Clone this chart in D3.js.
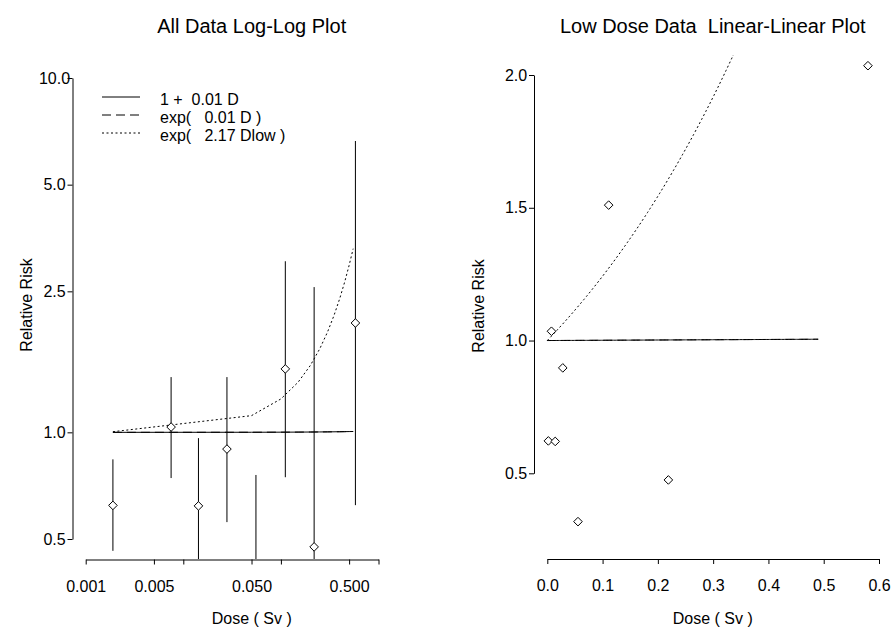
<!DOCTYPE html>
<html>
<head>
<meta charset="utf-8">
<script src="https://cdn.jsdelivr.net/npm/d3@7"></script>
<style>
  html, body { margin: 0; padding: 0; background: #fff; }
  svg { display: block; font-family: "Liberation Sans", Arial, sans-serif; }
  text { white-space: pre; }
</style>
</head>
<body>
<svg id="chart" width="893" height="629"></svg>
<script>
// Dose groups (Sv), observed relative risk and confidence limits
const dose    = [0.0019, 0.0075, 0.0143, 0.028, 0.0555, 0.111, 0.219, 0.58];
const rr      = [0.622, 1.035, 0.620, 0.897, 0.318, 1.51, 0.475, 2.035];
const rrLower = [0.463, 0.743, 0.25, 0.558, 0.10, 0.747, 0.10, 0.623];
const rrUpper = [0.839, 1.432, 0.963, 1.432, 0.758, 3.04, 2.57, 6.64];

// Fitted model coefficients (per Sv)
const betaLinear = 0.01;
const betaExp = 0.01;
const betaLow = 2.17;

// Doses at which the fitted curves are evaluated
const fitDoseLog = [0.0019, 0.05, 0.1, 0.15, 0.2, 0.25, 0.3, 0.35, 0.4, 0.45, 0.5, 0.55];
const fitDoseLinMax = 0.49;

// Axis ticks
const logXTicks = [0.001, 0.005, 0.01, 0.05, 0.1, 0.5, 1];
const logXLabels = ["0.001", "0.005", "", "0.050", "", "0.500", ""];
const logYTicks = [0.5, 1, 2.5, 5, 10];
const logYLabels = ["0.5", "1.0", "2.5", "5.0", "10.0"];
const linXTicks = [0, 0.1, 0.2, 0.3, 0.4, 0.5, 0.6];
const linYTicks = [0.5, 1.0, 1.5, 2.0];

const legendLabels = ["1 +  0.01 D", "exp(   0.01 D )", "exp(   2.17 Dlow )"];

const svg = d3.select("#chart");
const dashStyle = "9,5";
const dotStyle = "2,2.5";

const models = [
  { f: d => 1 + betaLinear * d, dash: null },
  { f: d => Math.exp(betaExp * d), dash: dashStyle },
  { f: d => Math.exp(betaLow * d), dash: dotStyle }
];

function diamond(g, pts, x, y) {
  g.selectAll("path.pt").data(pts).join("path")
    .attr("class", "pt")
    .attr("d", "M0,-4.3L4.3,0L0,4.3L-4.3,0Z")
    .attr("transform", p => `translate(${x(p.d)},${y(p.r)})`)
    .attr("fill", "#fff").attr("stroke", "#000").attr("stroke-width", 1);
}

function styleAxis(g, fontSize) {
  g.select(".domain").attr("stroke", "#000").attr("stroke-width", 1);
  g.selectAll(".tick line").attr("stroke", "#000");
  g.selectAll(".tick text").attr("fill", "#000").attr("font-size", fontSize)
    .attr("font-family", "'Liberation Sans', Arial, sans-serif");
}

const points = dose.map((d, i) => ({ d, r: rr[i], lo: rrLower[i], hi: rrUpper[i] }));

// ---------- Left panel: all data, log-log ----------
{
  const x = d3.scaleLog().domain([0.001, 1]).range([85.7, 378.5]);
  const y = d3.scaleLog().domain([0.5, 10]).range([539, 78]);
  const axisY = 72.5, axisXy = 559.5;

  svg.append("defs").append("clipPath").attr("id", "clipL")
    .append("rect").attr("x", 73).attr("y", 50).attr("width", 358).attr("height", 509);

  const plot = svg.append("g").attr("clip-path", "url(#clipL)");

  // confidence intervals
  plot.selectAll("line.err").data(points).join("line")
    .attr("class", "err")
    .attr("x1", p => x(p.d)).attr("x2", p => x(p.d))
    .attr("y1", p => y(p.lo)).attr("y2", p => y(p.hi))
    .attr("stroke", "#000").attr("stroke-width", 1);

  // fitted curves
  const line = d3.line().x(d => x(d[0])).y(d => y(d[1]));
  models.forEach(m => {
    plot.append("path")
      .attr("d", line(fitDoseLog.map(d => [d, m.f(d)])))
      .attr("fill", "none").attr("stroke", "#000").attr("stroke-width", 1)
      .attr("stroke-dasharray", m.dash);
  });

  diamond(plot, points, x, y);

  const gx = svg.append("g").attr("transform", `translate(0,${axisXy})`)
    .call(d3.axisBottom(x).tickValues(logXTicks)
      .tickFormat((d, i) => logXLabels[i]).tickSize(5).tickSizeOuter(0).tickPadding(16));
  styleAxis(gx, 16);

  const gy = svg.append("g").attr("transform", `translate(${axisY},0)`)
    .call(d3.axisLeft(y).tickValues(logYTicks)
      .tickFormat((d, i) => logYLabels[i]).tickSize(5).tickSizeOuter(0));
  styleAxis(gy, 16);
  gy.selectAll(".tick text").attr("text-anchor", "middle").attr("x", -18);

  // legend
  const lg = svg.append("g");
  const legendStyles = [null, dashStyle, dotStyle];
  legendLabels.forEach((t, i) => {
    const yy = 105 + i * 18;
    lg.append("line").attr("x1", 102).attr("x2", 140)
      .attr("y1", yy - 8).attr("y2", yy - 8)
      .attr("stroke", "#000").attr("stroke-width", 1)
      .attr("stroke-dasharray", legendStyles[i]);
    lg.append("text").attr("x", 160).attr("y", yy)
      .attr("font-size", 16).text(t);
  });

  svg.append("text").attr("x", 251.7).attr("y", 33).attr("text-anchor", "middle")
    .attr("font-size", 20).text("All Data Log-Log Plot");
  svg.append("text").attr("x", 251.7).attr("y", 624).attr("text-anchor", "middle")
    .attr("font-size", 16).text("Dose ( Sv )");
  svg.append("text").attr("transform", "translate(31.7,305) rotate(-90)")
    .attr("text-anchor", "middle").attr("font-size", 16).text("Relative Risk");
}

// ---------- Right panel: low dose data, linear-linear ----------
{
  const x = d3.scaleLinear().domain([0, 0.6]).range([547.3, 879]);
  const y = d3.scaleLinear().domain([0.5, 2.0]).range([473.3, 75]);
  const axisY = 534, axisXy = 559;

  svg.select("defs").append("clipPath").attr("id", "clipR")
    .append("rect").attr("x", 534).attr("y", 55).attr("width", 358).attr("height", 504);

  const plot = svg.append("g").attr("clip-path", "url(#clipR)");

  const grid = d3.range(0, 201).map(i => fitDoseLinMax * i / 200);
  const line = d3.line().x(d => x(d[0])).y(d => y(d[1]));
  models.forEach(m => {
    plot.append("path")
      .attr("d", line(grid.map(d => [d, m.f(d)])))
      .attr("fill", "none").attr("stroke", "#000").attr("stroke-width", 1)
      .attr("stroke-dasharray", m.dash);
  });

  diamond(plot, points, x, y);

  const gx = svg.append("g").attr("transform", `translate(0,${axisXy})`)
    .call(d3.axisBottom(x).tickValues(linXTicks)
      .tickFormat(d3.format(".1f")).tickSize(5).tickSizeOuter(0).tickPadding(16));
  styleAxis(gx, 16);

  const gy = svg.append("g").attr("transform", `translate(${axisY},0)`)
    .call(d3.axisLeft(y).tickValues(linYTicks)
      .tickFormat(d3.format(".1f")).tickSize(5).tickSizeOuter(0));
  styleAxis(gy, 16);
  gy.selectAll(".tick text").attr("text-anchor", "middle").attr("x", -18);

  svg.append("text").attr("x", 712.8).attr("y", 33).attr("text-anchor", "middle")
    .attr("font-size", 20).text("Low Dose Data  Linear-Linear Plot");
  svg.append("text").attr("x", 712.8).attr("y", 624).attr("text-anchor", "middle")
    .attr("font-size", 16).text("Dose ( Sv )");
  svg.append("text").attr("transform", "translate(483.5,306) rotate(-90)")
    .attr("text-anchor", "middle").attr("font-size", 16).text("Relative Risk");
}
</script>
</body>
</html>
